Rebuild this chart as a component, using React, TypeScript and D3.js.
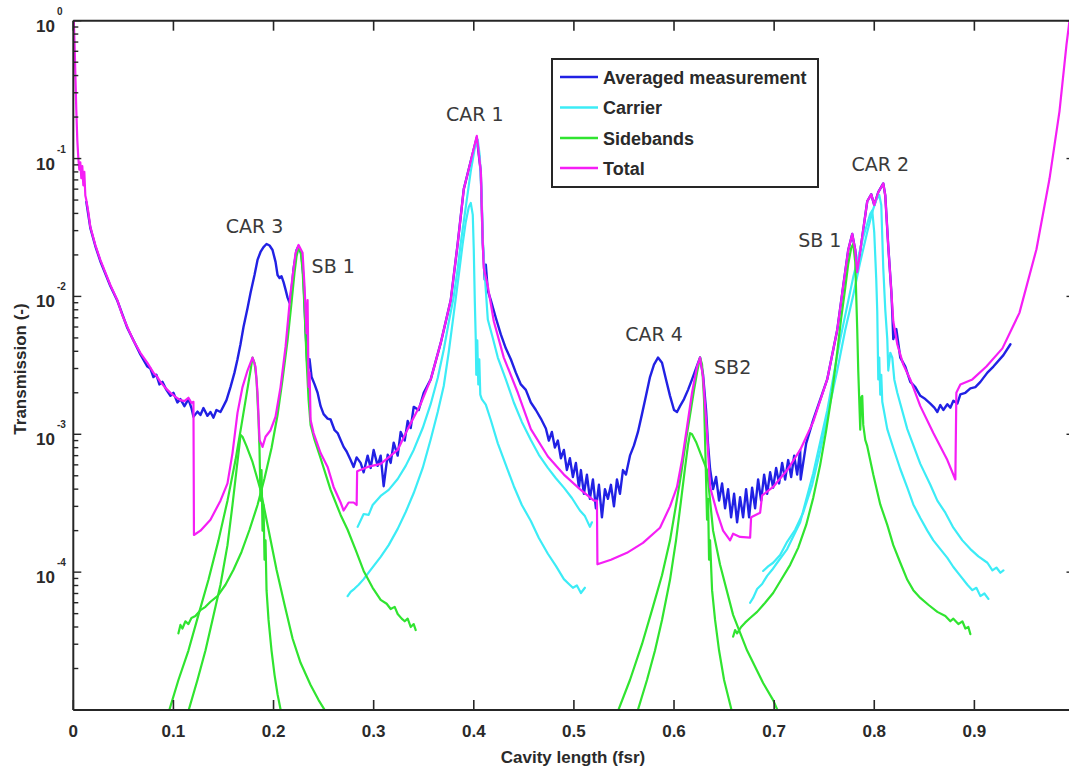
import React from 'react';
import * as d3 from 'd3';

type Pt = [number, number];

const xTickValues = [0, 0.1, 0.2, 0.3, 0.4, 0.5, 0.6, 0.7, 0.8, 0.9, 1.0];
const xTickLabelValues = [0, 0.1, 0.2, 0.3, 0.4, 0.5, 0.6, 0.7, 0.8, 0.9];
const xTickLabels = ['0', '0.1', '0.2', '0.3', '0.4', '0.5', '0.6', '0.7', '0.8', '0.9'];
const yDecades = [1, 0.1, 0.01, 0.001, 0.0001, 0.00001];
const yDecadeLabels = ['0', '-1', '-2', '-3', '-4', ''];

const total: Pt[] = [
  [0.0005, 0.99], [0.0013, 0.67], [0.0022, 0.37], [0.003, 0.225], [0.004, 0.136], [0.005, 0.101],
  [0.006, 0.083], [0.007, 0.094], [0.008, 0.072], [0.009, 0.088], [0.010, 0.064], [0.011, 0.080],
  [0.012, 0.054], [0.013, 0.050], [0.015, 0.041], [0.017, 0.032], [0.022, 0.0236], [0.027, 0.0184],
  [0.037, 0.0121], [0.044, 0.0094], [0.049, 0.0073], [0.054, 0.0060], [0.060, 0.0048], [0.067, 0.0039],
  [0.074, 0.0033], [0.080, 0.0028], [0.084, 0.0026], [0.087, 0.0024], [0.092, 0.00217], [0.097, 0.0020],
  [0.102, 0.00187], [0.107, 0.00177], [0.111, 0.00174], [0.115, 0.00184], [0.118, 0.00169], [0.120, 0.00172],
  [0.1205, 1.86e-4], [0.127, 2.0e-4], [0.137, 2.4e-4], [0.147, 3.3e-4], [0.154, 4.4e-4], [0.159, 7.3e-4],
  [0.164, 1.43e-3], [0.169, 2.2e-3], [0.174, 2.9e-3], [0.179, 3.6e-3], [0.182, 3.1e-3], [0.184, 2.0e-3],
  [0.186, 9.1e-4], [0.189, 8.1e-4], [0.192, 9.6e-4], [0.197, 1.07e-3], [0.202, 1.34e-3], [0.207, 2.2e-3],
  [0.212, 4.3e-3], [0.217, 1.06e-2], [0.222, 2.07e-2], [0.225, 2.36e-2], [0.229, 2.07e-2], [0.231, 1.17e-2],
  [0.233, 5.4e-3], [0.234, 9.4e-3], [0.235, 2.2e-3], [0.236, 2.8e-3], [0.237, 1.27e-3], [0.240, 1.02e-3],
  [0.247, 7.3e-4], [0.254, 5.8e-4], [0.260, 4.15e-4], [0.267, 3.2e-4], [0.270, 2.8e-4], [0.275, 3.2e-4],
  [0.280, 3.2e-4], [0.283, 3.07e-4], [0.2835, 5.4e-4], [0.294, 5.8e-4], [0.307, 6.1e-4], [0.324, 7.7e-4],
  [0.334, 1.09e-3], [0.347, 1.66e-3], [0.357, 2.5e-3], [0.367, 4.6e-3], [0.377, 9.4e-3], [0.384, 2.44e-2],
  [0.390, 6.0e-2], [0.397, 9.6e-2], [0.403, 0.146], [0.407, 8.1e-2], [0.409, 2.44e-2], [0.410, 1.6e-2],
  [0.414, 1.19e-2], [0.420, 6.6e-3], [0.430, 3.6e-3], [0.444, 2.0e-3], [0.457, 1.09e-3], [0.474, 6.9e-4],
  [0.490, 5.1e-4], [0.506, 4.0e-4], [0.520, 3.3e-4], [0.523, 3.3e-4], [0.5235, 1.14e-4], [0.537, 1.23e-4],
  [0.553, 1.38e-4], [0.569, 1.63e-4], [0.586, 2.1e-4], [0.596, 3.0e-4], [0.603, 4.15e-4], [0.608, 6.5e-4],
  [0.613, 1.13e-3], [0.618, 2.0e-3], [0.623, 3.1e-3], [0.626, 3.6e-3], [0.629, 2.6e-3], [0.633, 1.02e-3],
  [0.636, 4.15e-4], [0.643, 2.7e-4], [0.649, 2.0e-4], [0.656, 1.7e-4], [0.659, 1.9e-4], [0.666, 1.8e-4],
  [0.676, 1.78e-4], [0.677, 2.5e-4], [0.686, 2.7e-4], [0.688, 3.6e-4], [0.699, 4.15e-4], [0.713, 5.5e-4],
  [0.726, 7.7e-4], [0.739, 1.23e-3], [0.753, 2.5e-3], [0.763, 5.7e-3], [0.769, 1.19e-2], [0.774, 2.17e-2],
  [0.778, 2.84e-2], [0.781, 2.17e-2], [0.783, 1.5e-2], [0.788, 2.7e-2], [0.793, 4.9e-2], [0.797, 5.5e-2],
  [0.800, 4.6e-2], [0.804, 5.7e-2], [0.809, 6.6e-2], [0.811, 5.4e-2], [0.814, 2.3e-2], [0.817, 1.1e-2],
  [0.819, 6.6e-3], [0.823, 4.5e-3], [0.829, 3.2e-3], [0.836, 2.5e-3], [0.846, 1.6e-3], [0.859, 1.02e-3],
  [0.873, 6.5e-4], [0.881, 4.7e-4], [0.882, 2.0e-3], [0.886, 2.3e-3], [0.898, 2.5e-3], [0.912, 3.1e-3],
  [0.928, 4.2e-3], [0.945, 7.6e-3], [0.962, 2.2e-2], [0.975, 7.1e-2], [0.985, 0.22], [0.992, 0.67], [0.995, 1.0],
];

const measured: Pt[] = [
  [0.013, 0.0485], [0.017, 0.0314], [0.022, 0.0232], [0.027, 0.018], [0.037, 0.0119], [0.044, 0.0093],
  [0.054, 0.0059], [0.067, 0.0038], [0.074, 0.0031], [0.077, 0.0030], [0.080, 0.0026], [0.083, 0.0027],
  [0.086, 0.0023], [0.089, 0.0024], [0.093, 0.0021], [0.097, 0.0019], [0.100, 0.0020], [0.104, 0.0017],
  [0.107, 0.0018], [0.111, 0.0016], [0.115, 0.0018], [0.118, 0.00155], [0.120, 0.00134], [0.124, 0.00146],
  [0.127, 0.00138], [0.130, 0.00155], [0.134, 0.00136], [0.137, 0.00145], [0.140, 0.00132], [0.143, 0.0015],
  [0.147, 0.00145], [0.150, 0.0016], [0.153, 0.00177], [0.157, 0.0022], [0.161, 0.0028], [0.164, 0.0035],
  [0.167, 0.0045], [0.170, 0.006], [0.174, 0.0082], [0.177, 0.0106], [0.181, 0.0143], [0.184, 0.0184],
  [0.187, 0.021], [0.190, 0.0228], [0.193, 0.024], [0.196, 0.0234], [0.199, 0.0217], [0.202, 0.0178],
  [0.204, 0.0143], [0.206, 0.0136], [0.208, 0.014], [0.210, 0.0127], [0.212, 0.0112], [0.214, 0.0098],
  [0.216, 0.009], [0.218, 0.0112], [0.220, 0.0159], [0.223, 0.0217], [0.225, 0.0232], [0.228, 0.02],
  [0.230, 0.0133], [0.232, 0.0057], [0.234, 0.0029], [0.236, 0.0035], [0.238, 0.0026], [0.241, 0.0023],
  [0.244, 0.002], [0.247, 0.0016], [0.250, 0.0014], [0.254, 0.0013], [0.257, 0.00128], [0.261, 0.00107],
  [0.264, 0.00102], [0.267, 9.1e-4], [0.270, 8.1e-4], [0.273, 7.5e-4], [0.277, 6.5e-4], [0.280, 5.8e-4],
  [0.283, 6.8e-4], [0.287, 6.2e-4], [0.290, 5.3e-4], [0.294, 7.0e-4], [0.297, 5.7e-4], [0.300, 7.7e-4],
  [0.304, 5.9e-4], [0.307, 7.0e-4], [0.310, 4.2e-4], [0.314, 7.1e-4], [0.317, 6.2e-4], [0.320, 8.7e-4],
  [0.324, 7.0e-4], [0.327, 1.04e-3], [0.331, 9.0e-4], [0.334, 1.25e-3], [0.337, 1.11e-3], [0.340, 1.58e-3],
  [0.345, 1.5e-3], [0.350, 2.0e-3], [0.357, 2.5e-3], [0.367, 4.6e-3], [0.377, 9.4e-3], [0.384, 2.44e-2],
  [0.390, 6.0e-2], [0.397, 9.6e-2], [0.403, 0.142], [0.407, 0.08], [0.409, 2.4e-2], [0.411, 1.32e-2],
  [0.412, 1.7e-2], [0.414, 1.1e-2], [0.417, 9.4e-3], [0.422, 7.0e-3], [0.427, 5.3e-3], [0.432, 4.2e-3],
  [0.437, 3.5e-3], [0.442, 2.8e-3], [0.447, 2.3e-3], [0.452, 2.1e-3], [0.457, 1.7e-3], [0.462, 1.5e-3],
  [0.467, 1.3e-3], [0.472, 1.1e-3], [0.475, 9.0e-4], [0.478, 1.04e-3], [0.481, 8.0e-4], [0.484, 9.0e-4],
  [0.487, 6.7e-4], [0.490, 7.7e-4], [0.493, 5.5e-4], [0.496, 6.7e-4], [0.499, 4.9e-4], [0.502, 6.2e-4],
  [0.505, 4.1e-4], [0.507, 5.5e-4], [0.510, 3.7e-4], [0.513, 5.1e-4], [0.516, 3.4e-4], [0.519, 4.7e-4],
  [0.522, 2.9e-4], [0.525, 4.3e-4], [0.528, 2.5e-4], [0.531, 4.0e-4], [0.534, 3.4e-4], [0.537, 4.3e-4],
  [0.540, 3.0e-4], [0.543, 4.7e-4], [0.546, 3.7e-4], [0.549, 5.5e-4], [0.552, 5.1e-4], [0.556, 7.0e-4],
  [0.560, 8.3e-4], [0.564, 1.04e-3], [0.568, 1.4e-3], [0.572, 1.9e-3], [0.576, 2.6e-3], [0.580, 3.2e-3],
  [0.584, 3.6e-3], [0.588, 3.3e-3], [0.592, 2.5e-3], [0.596, 1.9e-3], [0.600, 1.5e-3], [0.603, 1.45e-3],
  [0.606, 1.6e-3], [0.610, 1.8e-3], [0.614, 2.1e-3], [0.618, 2.5e-3], [0.622, 3.0e-3], [0.626, 3.6e-3],
  [0.629, 2.7e-3], [0.632, 1.5e-3], [0.634, 8.4e-4], [0.636, 5.6e-4], [0.639, 4.0e-4], [0.642, 4.9e-4],
  [0.645, 3.3e-4], [0.648, 4.4e-4], [0.651, 2.9e-4], [0.654, 4.0e-4], [0.657, 2.5e-4], [0.660, 3.7e-4],
  [0.663, 2.3e-4], [0.666, 3.5e-4], [0.669, 2.5e-4], [0.672, 4.0e-4], [0.675, 2.5e-4], [0.678, 4.1e-4],
  [0.681, 2.9e-4], [0.684, 4.7e-4], [0.687, 3.3e-4], [0.690, 5.1e-4], [0.693, 3.7e-4], [0.696, 5.3e-4],
  [0.699, 4.1e-4], [0.702, 5.7e-4], [0.705, 4.4e-4], [0.708, 6.2e-4], [0.711, 4.7e-4], [0.714, 6.5e-4],
  [0.717, 4.9e-4], [0.720, 7.0e-4], [0.723, 5.1e-4], [0.726, 7.7e-4], [0.7265, 4.7e-4], [0.732, 8.6e-4],
  [0.739, 1.27e-3], [0.753, 2.5e-3], [0.763, 5.7e-3], [0.769, 1.19e-2], [0.774, 2.17e-2], [0.778, 2.84e-2],
  [0.781, 2.17e-2], [0.783, 1.5e-2], [0.788, 2.7e-2], [0.793, 4.9e-2], [0.797, 5.5e-2], [0.800, 4.6e-2],
  [0.804, 5.7e-2], [0.809, 6.6e-2], [0.811, 5.4e-2], [0.814, 2.3e-2], [0.817, 1.1e-2], [0.818, 7.7e-3],
  [0.819, 4.9e-3], [0.822, 5.8e-3], [0.826, 3.6e-3], [0.831, 3.1e-3], [0.836, 2.4e-3], [0.841, 2.2e-3],
  [0.846, 1.9e-3], [0.851, 1.8e-3], [0.856, 1.67e-3], [0.860, 1.56e-3], [0.863, 1.45e-3], [0.866, 1.63e-3],
  [0.869, 1.5e-3], [0.873, 1.65e-3], [0.876, 1.56e-3], [0.879, 1.75e-3], [0.883, 1.67e-3], [0.886, 1.95e-3],
  [0.891, 2.0e-3], [0.896, 2.15e-3], [0.901, 2.2e-3], [0.906, 2.4e-3], [0.913, 2.8e-3], [0.919, 3.1e-3],
  [0.929, 3.75e-3], [0.936, 4.5e-3],
];

const carrierCar1Main: Pt[] = [
  [0.284, 2.13e-4], [0.290, 2.64e-4], [0.295, 2.6e-4], [0.299, 3.07e-4], [0.307, 3.57e-4], [0.315, 3.95e-4],
  [0.324, 4.74e-4], [0.332, 5.9e-4], [0.340, 7.7e-4], [0.349, 1.11e-3], [0.357, 1.66e-3], [0.364, 2.56e-3],
  [0.370, 4.1e-3], [0.375, 6.5e-3], [0.380, 1.0e-2], [0.384, 1.6e-2], [0.387, 2.44e-2], [0.392, 4.45e-2],
  [0.397, 8.1e-2], [0.401, 0.119], [0.404, 0.136], [0.406, 0.104], [0.408, 5.0e-2], [0.409, 2.57e-2],
  [0.411, 1.43e-2], [0.414, 6.8e-3], [0.419, 5.0e-3], [0.424, 3.6e-3], [0.432, 2.5e-3], [0.440, 1.7e-3],
  [0.448, 1.23e-3], [0.457, 9.1e-4], [0.465, 7.1e-4], [0.474, 5.7e-4], [0.482, 4.8e-4], [0.490, 4.1e-4],
  [0.498, 3.45e-4], [0.506, 2.8e-4], [0.511, 2.55e-4], [0.516, 2.13e-4], [0.518, 2.3e-4],
];

const carrierCar1Side: Pt[] = [
  [0.274, 6.7e-5], [0.277, 7.2e-5], [0.281, 7.6e-5], [0.285, 8.1e-5], [0.290, 8.9e-5], [0.297, 1.04e-4],
  [0.307, 1.29e-4], [0.315, 1.57e-4], [0.324, 2.06e-4], [0.332, 2.73e-4], [0.340, 3.75e-4], [0.349, 5.7e-4],
  [0.357, 9.2e-4], [0.364, 1.45e-3], [0.370, 2.24e-3], [0.375, 3.95e-3], [0.380, 7.5e-3], [0.385, 1.43e-2],
  [0.389, 2.44e-2], [0.392, 3.47e-2], [0.395, 4.45e-2], [0.397, 4.76e-2], [0.399, 3.9e-2], [0.400, 2.17e-2],
  [0.401, 9.4e-3], [0.402, 4.8e-3], [0.4025, 2.7e-3], [0.4035, 4.8e-3], [0.4045, 2.3e-3], [0.4055, 3.5e-3],
  [0.4065, 1.94e-3], [0.408, 1.8e-3], [0.412, 1.64e-3], [0.417, 1.27e-3], [0.424, 8.6e-4], [0.432, 6.0e-4],
  [0.440, 4.2e-4], [0.448, 3.07e-4], [0.457, 2.35e-4], [0.465, 1.77e-4], [0.474, 1.36e-4], [0.482, 1.11e-4],
  [0.490, 8.9e-5], [0.495, 8.2e-5], [0.499, 7.7e-5], [0.503, 8.0e-5], [0.507, 7.06e-5], [0.511, 7.7e-5],
];

const carrierCar2A: Pt[] = [
  [0.676, 6.0e-5], [0.679, 6.5e-5], [0.683, 7.55e-5], [0.688, 8.2e-5], [0.693, 9.4e-5], [0.698, 1.04e-4],
  [0.703, 1.17e-4], [0.713, 1.47e-4], [0.726, 2.3e-4], [0.739, 5.2e-4], [0.753, 1.48e-3], [0.766, 4.9e-3],
  [0.779, 1.38e-2], [0.789, 2.7e-2], [0.796, 3.97e-2], [0.798, 4.2e-2], [0.800, 2.9e-2], [0.802, 1.32e-2],
  [0.803, 7.7e-3], [0.804, 2.5e-3], [0.805, 3.6e-3], [0.806, 1.94e-3], [0.807, 2.7e-3], [0.808, 1.72e-3],
  [0.813, 1.09e-3], [0.819, 7.95e-4], [0.826, 5.6e-4], [0.833, 4.1e-4], [0.839, 3.1e-4], [0.846, 2.47e-4],
  [0.853, 2.0e-4], [0.859, 1.7e-4], [0.866, 1.47e-4], [0.873, 1.27e-4], [0.879, 1.09e-4], [0.886, 9.4e-5],
  [0.893, 8.1e-5], [0.898, 7.4e-5], [0.902, 7.7e-5], [0.906, 6.7e-5], [0.910, 7.0e-5], [0.914, 6.4e-5],
];

const carrierCar2B: Pt[] = [
  [0.689, 1.02e-4], [0.694, 1.1e-4], [0.699, 1.17e-4], [0.706, 1.33e-4], [0.713, 1.66e-4], [0.721, 2.03e-4],
  [0.729, 2.7e-4], [0.738, 4.3e-4], [0.746, 7.6e-4], [0.754, 1.45e-3], [0.763, 2.9e-3], [0.771, 5.7e-3],
  [0.779, 1.02e-2], [0.786, 1.78e-2], [0.793, 2.93e-2], [0.798, 4.1e-2], [0.802, 5.0e-2], [0.805, 5.45e-2],
  [0.807, 4.6e-2], [0.809, 1.6e-2], [0.811, 8.0e-3], [0.813, 4.9e-3], [0.814, 2.9e-3], [0.816, 3.9e-3],
  [0.818, 3.6e-3], [0.820, 2.5e-3], [0.823, 2.0e-3], [0.833, 1.09e-3], [0.846, 6.1e-4], [0.856, 4.3e-4],
  [0.863, 3.3e-4], [0.871, 2.7e-4], [0.879, 2.1e-4], [0.888, 1.7e-4], [0.896, 1.47e-4], [0.904, 1.3e-4],
  [0.913, 1.17e-4], [0.918, 1.03e-4], [0.922, 1.08e-4], [0.926, 9.9e-5], [0.929, 1.03e-4],
];

const sidebandLeftWide: Pt[] = [
  [0.105, 3.6e-5], [0.107, 4.14e-5], [0.109, 3.9e-5], [0.112, 4.4e-5], [0.115, 4.2e-5], [0.118, 4.65e-5],
  [0.122, 4.8e-5], [0.127, 5.3e-5], [0.132, 5.6e-5], [0.137, 6.1e-5], [0.144, 6.7e-5], [0.152, 8.1e-5],
  [0.160, 1.04e-4], [0.168, 1.4e-4], [0.176, 2.03e-4], [0.184, 3.07e-4], [0.191, 4.8e-4], [0.198, 7.95e-4],
  [0.204, 1.38e-3], [0.209, 2.5e-3], [0.214, 4.8e-3], [0.218, 9.1e-3], [0.221, 1.5e-2], [0.223, 1.96e-2],
  [0.225, 2.25e-2], [0.227, 2.14e-2], [0.229, 1.56e-2], [0.231, 8.0e-3], [0.233, 3.46e-3], [0.235, 1.78e-3],
  [0.237, 1.17e-3], [0.241, 9.1e-4], [0.247, 6.7e-4], [0.257, 3.95e-4], [0.267, 2.6e-4], [0.274, 2.03e-4],
  [0.282, 1.45e-4], [0.290, 1.02e-4], [0.299, 7.7e-5], [0.307, 6.3e-5], [0.313, 5.9e-5], [0.317, 5.4e-5],
  [0.321, 5.6e-5], [0.324, 4.97e-5], [0.328, 4.6e-5], [0.331, 4.4e-5], [0.334, 4.6e-5], [0.337, 4.0e-5],
  [0.340, 4.2e-5], [0.342, 3.8e-5],
];

const sidebandLeftTall: Pt[] = [
  [0.094, 9e-6], [0.105, 1.65e-5], [0.115, 2.7e-5], [0.125, 4.9e-5], [0.135, 8.8e-5], [0.145, 1.7e-4],
  [0.154, 3.3e-4], [0.162, 6.5e-4], [0.168, 1.17e-3], [0.173, 1.94e-3], [0.177, 2.9e-3], [0.179, 3.6e-3],
  [0.181, 3.3e-3], [0.183, 2.5e-3], [0.185, 1.27e-3], [0.186, 7.7e-4], [0.187, 3.3e-4], [0.188, 5.5e-4],
  [0.189, 2.0e-4], [0.190, 3.07e-4], [0.191, 1.23e-4], [0.192, 1.7e-4], [0.193, 7.4e-5], [0.195, 4.5e-5],
  [0.198, 2.7e-5], [0.201, 1.8e-5], [0.204, 1.3e-5], [0.208, 9.3e-6],
];

const sidebandLeftNarrow: Pt[] = [
  [0.114, 9.3e-6], [0.124, 1.65e-5], [0.132, 2.7e-5], [0.139, 4.5e-5], [0.147, 8.1e-5], [0.154, 1.57e-4],
  [0.159, 3.07e-4], [0.163, 5.5e-4], [0.166, 8.4e-4], [0.167, 9.9e-4], [0.169, 9.6e-4], [0.173, 8.2e-4],
  [0.179, 6.3e-4], [0.187, 3.95e-4], [0.195, 2.03e-4], [0.203, 1.04e-4], [0.211, 5.8e-5], [0.219, 3.3e-5],
  [0.227, 2.2e-5], [0.237, 1.52e-5], [0.245, 1.18e-5], [0.255, 9e-6],
];

const sidebandRightTall: Pt[] = [
  [0.542, 9e-6], [0.556, 1.65e-5], [0.568, 3.0e-5], [0.578, 5.3e-5], [0.588, 9.5e-5], [0.596, 1.7e-4],
  [0.602, 3.07e-4], [0.607, 5.1e-4], [0.612, 9.1e-4], [0.616, 1.38e-3], [0.620, 2.1e-3], [0.623, 2.8e-3],
  [0.626, 3.6e-3], [0.628, 3.2e-3], [0.630, 1.78e-3], [0.631, 9.1e-4], [0.632, 4.7e-4], [0.633, 2.4e-4],
  [0.634, 3.4e-4], [0.635, 1.23e-4], [0.636, 1.7e-4], [0.638, 7.4e-5], [0.641, 4.5e-5], [0.645, 2.7e-5],
  [0.650, 1.65e-5], [0.659, 9e-6],
];

const sidebandRightNarrow: Pt[] = [
  [0.562, 9e-6], [0.573, 1.65e-5], [0.581, 2.7e-5], [0.588, 4.5e-5], [0.596, 8.8e-5], [0.602, 1.7e-4],
  [0.607, 3.3e-4], [0.611, 5.7e-4], [0.614, 8.4e-4], [0.616, 1.02e-3], [0.618, 1.0e-3], [0.622, 8.8e-4],
  [0.627, 7.1e-4], [0.633, 5.5e-4], [0.639, 2.0e-4], [0.646, 1.13e-4], [0.659, 4.9e-5], [0.673, 2.7e-5],
  [0.689, 1.57e-5], [0.699, 1.18e-5], [0.706, 9e-6],
];

const sidebandRightWide: Pt[] = [
  [0.659, 3.4e-5], [0.661, 3.8e-5], [0.663, 3.6e-5], [0.667, 4.0e-5], [0.671, 4.3e-5], [0.676, 4.65e-5],
  [0.683, 5.15e-5], [0.691, 6.0e-5], [0.699, 7.06e-5], [0.707, 8.8e-5], [0.716, 1.13e-4], [0.724, 1.5e-4],
  [0.732, 2.2e-4], [0.739, 3.45e-4], [0.746, 6.0e-4], [0.752, 1.07e-3], [0.758, 2.03e-3], [0.763, 3.95e-3],
  [0.767, 7.0e-3], [0.771, 1.15e-2], [0.774, 1.72e-2], [0.777, 2.25e-2], [0.779, 2.4e-2], [0.781, 1.78e-2],
  [0.783, 5.7e-3], [0.784, 2.9e-3], [0.785, 1.78e-3], [0.786, 1.08e-3], [0.787, 1.85e-3], [0.788, 1.9e-3],
  [0.789, 1.17e-3], [0.791, 9.1e-4], [0.793, 8.2e-4], [0.799, 5.1e-4], [0.806, 3.1e-4], [0.813, 2.2e-4],
  [0.819, 1.57e-4], [0.826, 1.17e-4], [0.833, 8.8e-5], [0.839, 7.4e-5], [0.846, 6.5e-5], [0.854, 5.8e-5],
  [0.863, 5.15e-5], [0.871, 4.8e-5], [0.876, 4.4e-5], [0.879, 4.6e-5], [0.884, 4.2e-5], [0.888, 4.4e-5],
  [0.891, 3.9e-5], [0.894, 4.0e-5], [0.896, 3.55e-5],
];

const peakLabels = ['CAR 3', 'SB 1', 'CAR 1', 'CAR 4', 'SB2', 'SB 1', 'CAR 2'];
const peakLabelX = [0.181, 0.238, 0.401, 0.580, 0.640, 0.724, 0.806];
const peakLabelY = [2.89e-2, 1.48e-2, 0.187, 4.76e-3, 2.74e-3, 2.28e-2, 8.1e-2];
const peakLabelAnchor = ['middle', 'start', 'middle', 'middle', 'start', 'start', 'middle'];

const legendNames = ['Averaged measurement', 'Carrier', 'Sidebands', 'Total'];

const COLORS = {
  measured: '#2121e4',
  carrier: '#3cecf6',
  sideband: '#30e430',
  total: '#f51ef5',
};
const legendColors = [COLORS.measured, COLORS.carrier, COLORS.sideband, COLORS.total];

const W = 1069;
const H = 768;
const LEFT = 73.3;
const RIGHT = 1074.5;
const TOP = 20.7;
const BOTTOM = 710;

export default function App() {
  const x = d3.scaleLinear().domain([0, 1]).range([LEFT, RIGHT]);
  const y = d3.scaleLog().domain([1e-5, 1]).range([BOTTOM, TOP]);
  const line = d3.line<Pt>().x((d) => x(d[0])).y((d) => y(d[1]));

  const minorTicks: number[] = [];
  for (let e = -5; e < 0; e++) {
    for (let m = 2; m <= 9; m++) minorTicks.push(m * Math.pow(10, e));
  }

  const axisColor = '#262626';
  const labelFont = '"Liberation Sans", Arial, Helvetica, sans-serif';

  const carriers = [carrierCar1Main, carrierCar1Side, carrierCar2A, carrierCar2B];
  const sidebands = [
    sidebandLeftWide, sidebandLeftTall, sidebandLeftNarrow,
    sidebandRightTall, sidebandRightNarrow, sidebandRightWide,
  ];

  const legendX = 552;
  const legendY = 59;
  const legendW = 266;
  const legendH = 128;
  const rowY = [77, 107.5, 138, 168];

  return (
    <svg
      width={W}
      height={H}
      viewBox={`0 0 ${W} ${H}`}
      style={{ position: 'absolute', left: 0, top: 0, background: '#ffffff', overflow: 'hidden' }}
    >
      <defs>
        <clipPath id="plotClip">
          <rect x={LEFT} y={TOP} width={RIGHT - LEFT} height={BOTTOM - TOP} />
        </clipPath>
      </defs>
      <rect x={0} y={0} width={W} height={H} fill="#ffffff" />

      <g clipPath="url(#plotClip)" fill="none" strokeLinejoin="round" strokeLinecap="round">
        <path d={line(measured) || ''} stroke={COLORS.measured} strokeWidth={2.4} />
        {carriers.map((c, i) => (
          <path key={'c' + i} d={line(c) || ''} stroke={COLORS.carrier} strokeWidth={2.2} />
        ))}
        {sidebands.map((s, i) => (
          <path key={'s' + i} d={line(s) || ''} stroke={COLORS.sideband} strokeWidth={2.2} />
        ))}
        <path d={line(total) || ''} stroke={COLORS.total} strokeWidth={2.2} />
      </g>

      {/* axes box */}
      <g stroke={axisColor} strokeWidth={2} fill="none">
        <line x1={LEFT} y1={TOP} x2={RIGHT} y2={TOP} />
        <line x1={LEFT} y1={BOTTOM} x2={RIGHT} y2={BOTTOM} />
        <line x1={LEFT} y1={TOP} x2={LEFT} y2={BOTTOM} />
        <line x1={RIGHT} y1={TOP} x2={RIGHT} y2={BOTTOM} />
      </g>

      {/* x ticks */}
      <g stroke={axisColor} strokeWidth={1.6}>
        {xTickValues.map((v) => (
          <g key={'xt' + v}>
            <line x1={x(v)} x2={x(v)} y1={BOTTOM} y2={BOTTOM - 10} />
            <line x1={x(v)} x2={x(v)} y1={TOP} y2={TOP + 10} />
          </g>
        ))}
      </g>

      {/* y ticks */}
      <g stroke={axisColor} strokeWidth={1.4}>
        {yDecades.map((v) => (
          <g key={'yt' + v}>
            <line x1={LEFT} x2={LEFT + 8} y1={y(v)} y2={y(v)} />
            <line x1={RIGHT} x2={RIGHT - 8} y1={y(v)} y2={y(v)} />
          </g>
        ))}
        {minorTicks.map((v, i) => (
          <g key={'ym' + i}>
            <line x1={LEFT} x2={LEFT + 5} y1={y(v)} y2={y(v)} />
            <line x1={RIGHT} x2={RIGHT - 5} y1={y(v)} y2={y(v)} />
          </g>
        ))}
      </g>

      {/* x tick labels */}
      <g fontFamily={labelFont} fontWeight="bold" fontSize={17} fill="#2a2a2a" textAnchor="middle">
        {xTickLabelValues.map((v, i) => (
          <text key={'xl' + v} x={x(v)} y={737}>
            {xTickLabels[i]}
          </text>
        ))}
      </g>

      {/* y tick labels */}
      <g fontFamily={labelFont} fontWeight="bold" fill="#2a2a2a">
        {yDecades.map((v, i) =>
          yDecadeLabels[i] === '' ? null : (
            <g key={'yl' + v}>
              <text x={55} y={y(v) + 11} fontSize={17} textAnchor="end">
                10
              </text>
              <text x={57} y={y(v) - 6} fontSize={10} textAnchor="start">
                {yDecadeLabels[i]}
              </text>
            </g>
          )
        )}
      </g>

      {/* axis titles */}
      <text
        x={573}
        y={763}
        textAnchor="middle"
        fontFamily={labelFont}
        fontWeight="bold"
        fontSize={17}
        fill="#2a2a2a"
      >
        Cavity length (fsr)
      </text>
      <text
        transform={`translate(26, 369) rotate(-90)`}
        textAnchor="middle"
        fontFamily={labelFont}
        fontWeight="bold"
        fontSize={17}
        fill="#2a2a2a"
      >
        Transmission (-)
      </text>

      {/* peak annotations */}
      <g fontFamily='"DejaVu Sans", Verdana, sans-serif' fontSize={19} fill="#3a3a3a">
        {peakLabels.map((t, i) => (
          <text key={'pk' + i} x={x(peakLabelX[i])} y={y(peakLabelY[i])} textAnchor={peakLabelAnchor[i] as any}>
            {t}
          </text>
        ))}
      </g>

      {/* legend */}
      <g>
        <rect x={legendX} y={legendY} width={legendW} height={legendH} fill="#ffffff" stroke={axisColor} strokeWidth={2} />
        {legendNames.map((n, i) => (
          <g key={'lg' + i}>
            <line x1={560} x2={598} y1={rowY[i]} y2={rowY[i]} stroke={legendColors[i]} strokeWidth={2.4} />
            <text
              x={603}
              y={rowY[i] + 6.5}
              fontFamily={labelFont}
              fontWeight="bold"
              fontSize={18}
              fill="#2a2a2a"
            >
              {n}
            </text>
          </g>
        ))}
      </g>
    </svg>
  );
}
